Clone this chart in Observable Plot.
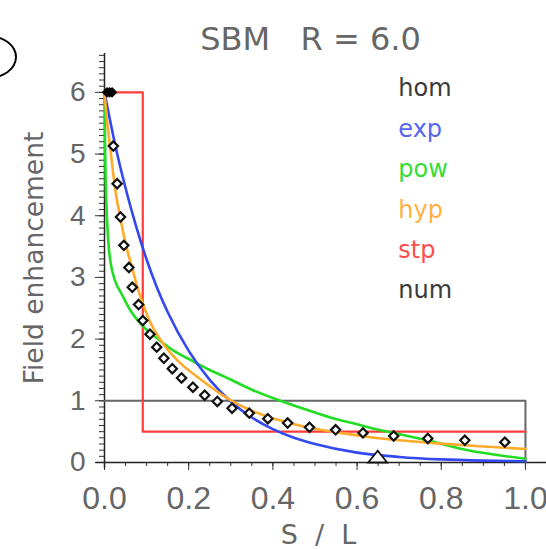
<!DOCTYPE html>
<html><head><meta charset="utf-8">
<script src="https://cdn.jsdelivr.net/npm/d3@7"></script>
<script src="https://cdn.jsdelivr.net/npm/@observablehq/plot@0.6"></script>
<style>
html,body{margin:0;padding:0;background:#fff;}
#wrap{position:relative;width:546px;height:549px;overflow:hidden;}
#oval{position:absolute;left:-41px;top:35px;width:58px;height:44px;box-sizing:border-box;border:2px solid #000;border-radius:50%;z-index:2;}
svg text{white-space:pre;}
</style></head><body><div id="wrap"></div>
<script>
// ---- data ----
const titleText = "SBM   R = 6.0";
const xLabelText = "S  /  L";
const yLabelText = "Field enhancement";
const legendNames = ["hom", "exp", "pow", "hyp", "stp", "num"];
const legendColors = ["#3a3a3a", "#5566f0", "#33dd33", "#ffb040", "#ff4d4d", "#3a3a3a"];

const xMajorTicks = [0.0, 0.2, 0.4, 0.6, 0.8, 1.0];
const yMajorTicks = [0, 1, 2, 3, 4, 5, 6];

const homS = [0, 1, 1];
const homF = [1, 1, 0];

const stpS = [0, 0.0909, 0.0909, 1];
const stpF = [6, 6, 0.5, 0.5];

const expS = [0, 0.025, 0.05, 0.075, 0.1, 0.125, 0.15, 0.2, 0.25, 0.3, 0.35, 0.4, 0.45, 0.5, 0.6, 0.7, 0.8, 0.9, 1.0];
const expF = [6.0, 5.16, 4.45, 3.83, 3.29, 2.83, 2.44, 1.81, 1.34, 0.99, 0.73, 0.54, 0.40, 0.30, 0.16, 0.09, 0.05, 0.03, 0.02];

const powS = [0, 0.001, 0.003, 0.006, 0.01, 0.015, 0.025, 0.04, 0.062, 0.093, 0.133, 0.165, 0.211, 0.25, 0.292, 0.35, 0.418, 0.5, 0.537, 0.6, 0.648, 0.7, 0.767, 0.869, 0.93, 1.0];
const powF = [6.0, 5.3, 4.5, 3.95, 3.5, 3.22, 2.95, 2.74, 2.46, 2.2, 1.97, 1.81, 1.64, 1.5, 1.37, 1.18, 1.0, 0.81, 0.73, 0.62, 0.535, 0.46, 0.36, 0.19, 0.125, 0.06];

const hypS = [0, 0.005, 0.014, 0.025, 0.038, 0.05, 0.066, 0.08, 0.09, 0.105, 0.137, 0.177, 0.228, 0.283, 0.315, 0.35, 0.418, 0.489, 0.56, 0.632, 0.7, 0.79, 0.9, 1.0];
const hypF = [6.0, 5.6, 5.08, 4.45, 3.95, 3.55, 3.15, 2.8, 2.6, 2.33, 1.95, 1.63, 1.35, 1.08, 0.95, 0.84, 0.68, 0.56, 0.48, 0.41, 0.36, 0.31, 0.26, 0.22];

const numS = [0.021, 0.030, 0.038, 0.046, 0.058, 0.066, 0.081, 0.091, 0.108, 0.124, 0.141, 0.161, 0.183, 0.210, 0.238, 0.268, 0.303, 0.344, 0.388, 0.435, 0.487, 0.549, 0.614, 0.687, 0.768, 0.856, 0.951];
const numF = [5.13, 4.52, 3.98, 3.52, 3.16, 2.84, 2.56, 2.30, 2.08, 1.87, 1.69, 1.52, 1.37, 1.22, 1.09, 0.99, 0.88, 0.80, 0.71, 0.64, 0.57, 0.53, 0.48, 0.43, 0.39, 0.36, 0.33];

const numFilledS = [0.006, 0.012, 0.018];
const numFilledF = [6, 6, 6];

const markerS = [0.649];
const markerF = [0];

// ---- build tables ----
const tbl = (s, f) => s.map((v, i) => ({s: v, f: f[i]}));
const hom = tbl(homS, homF), stp = tbl(stpS, stpF), expD = tbl(expS, expF),
      powD = tbl(powS, powF), hyp = tbl(hypS, hypF), num = tbl(numS, numF),
      numFilled = tbl(numFilledS, numFilledF), marker = tbl(markerS, markerF);
const legend = legendNames.map((n, i) => ({name: n, color: legendColors[i]}));

const xMinorTicks = d3.range(0, 1.051, 0.05);
const yMinorTicks = d3.range(0, 6.65, 0.1);

// flat open triangle sitting on its base
const flatTriangle = {
  draw(ctx, size) {
    const r = Math.sqrt(size / Math.PI);
    ctx.moveTo(-1.35 * r, 0);
    ctx.lineTo(1.35 * r, 0);
    ctx.lineTo(0, -1.7 * r);
    ctx.closePath();
  }
};

const lineW = 2.6;
const chart = Plot.plot({
  width: 546, height: 549,
  marginLeft: 104, marginRight: 0, marginTop: 53, marginBottom: 87,
  x: {domain: [0, 1.05], label: null},
  y: {domain: [0, 6.63], label: null},
  style: {fontFamily: "DejaVu Sans", background: "white", color: "#222"},
  marks: [
    Plot.axisX({ticks: xMinorTicks, tickSize: 4, text: null, label: null, stroke: "#333"}),
    Plot.axisX({ticks: xMajorTicks, tickSize: 8, tickPadding: 16, tickFormat: d3.format(".1f"), fontSize: 32, fontFamily: "Liberation Sans", fill: "#666", stroke: "#333", label: null}),
    Plot.axisY({ticks: yMinorTicks, tickSize: 5, text: null, label: null, stroke: "#333"}),
    Plot.axisY({ticks: yMajorTicks, tickSize: 9, tickPadding: 10, tickFormat: d3.format("d"), fontSize: 28, fontFamily: "Liberation Sans", fill: "#666", stroke: "#333", label: null}),
    Plot.ruleY([0], {x1: -0.02, x2: 1.05, stroke: "#222", strokeWidth: 1.5}),
    Plot.ruleX([0], {y1: -0.1, y2: 6.63, stroke: "#222", strokeWidth: 1.5}),
    Plot.line(hom, {x: "s", y: "f", stroke: "#666", strokeWidth: 2}),
    Plot.line(stp, {x: "s", y: "f", stroke: "#ff3b3b", strokeWidth: 2.2}),
    Plot.line(powD, {x: "s", y: "f", stroke: "#22dd22", strokeWidth: lineW, curve: "monotone-x"}),
    Plot.line(expD, {x: "s", y: "f", stroke: "#3348f0", strokeWidth: lineW, curve: "monotone-x"}),
    Plot.line(hyp, {x: "s", y: "f", stroke: "#ffaa2a", strokeWidth: lineW, curve: "monotone-x"}),
    Plot.dot(num, {x: "s", y: "f", symbol: "diamond2", r: 4.2, stroke: "#111", strokeWidth: 2.2, fill: "white"}),
    Plot.dot(numFilled, {x: "s", y: "f", symbol: "diamond2", r: 3.8, stroke: "#000", strokeWidth: 1.5, fill: "#000"}),
    Plot.dot(marker, {x: "s", y: "f", symbol: flatTriangle, r: 7, stroke: "#111", strokeWidth: 1.8, fill: "white"}),
    Plot.text(legend, {x: () => 0.698, y: (d, i) => 6.06 - i * 0.655, text: "name", fill: "color", textAnchor: "start", fontSize: 24, letterSpacing: 0.5}),
    Plot.text([titleText], {frameAnchor: "top", dx: -15, dy: -26, fontSize: 32, fill: "#666", letterSpacing: 1.5}),
    Plot.text([xLabelText], {frameAnchor: "bottom", dx: -7, dy: 81, fontSize: 27, fill: "#666"}),
    Plot.text([yLabelText], {frameAnchor: "left", textAnchor: "middle", dx: -70, rotate: -90, fontSize: 26.5, fill: "#666"})
  ]
});
const wrap = document.getElementById("wrap");
wrap.appendChild(chart);
const oval = document.createElement("div");
oval.id = "oval";
wrap.appendChild(oval);
</script>
</body></html>
